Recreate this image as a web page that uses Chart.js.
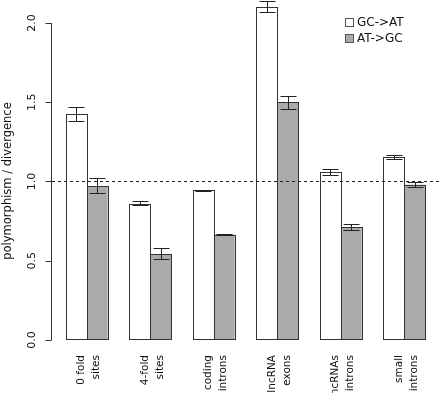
<!DOCTYPE html>
<html>
<head>
<meta charset="utf-8">
<script src="https://cdn.jsdelivr.net/npm/chart.js@4"></script>
<style>
  html, body { margin: 0; padding: 0; background: #fff; }
  #wrap { width: 440px; height: 393px; }
</style>
</head>
<body>
<div id="wrap"><canvas id="chart" width="440" height="393"></canvas></div>
<script>
const categories = [['0 fold', 'sites'], ['4-fold', 'sites'], ['coding', 'introns'], ['lncRNA', 'exons'], ['lncRNAs', 'introns'], ['small', 'introns']];
const gcToAt = [1.425, 0.86, 0.945, 2.10, 1.06, 1.155];
const gcToAtLo = [1.38, 0.85, 0.943, 2.07, 1.04, 1.14];
const gcToAtHi = [1.47, 0.875, 0.947, 2.14, 1.08, 1.17];
const atToGc = [0.97, 0.54, 0.665, 1.50, 0.71, 0.98];
const atToGcLo = [0.93, 0.51, 0.663, 1.46, 0.695, 0.965];
const atToGcHi = [1.02, 0.58, 0.667, 1.54, 0.73, 0.995];
const yTicks = [0, 0.5, 1.0, 1.5, 2.0];
const refLine = 1.0;

const FONT = '"DejaVu Sans", sans-serif';
const errors = [[gcToAtLo, gcToAtHi], [atToGcLo, atToGcHi]];

// bar outlines, error bars, axes, reference line and legend drawn on top of the bars
const extras = {
  id: 'extras',
  afterDatasetsDraw(chart) {
    const ctx = chart.ctx;
    const x = chart.scales.x;
    const y = chart.scales.y;
    const area = chart.chartArea;
    ctx.save();
    ctx.lineWidth = 1;

    // crisp bar outlines
    ctx.strokeStyle = '#333';
    chart.data.datasets.forEach((ds, d) => {
      chart.getDatasetMeta(d).data.forEach(bar => {
        const l = Math.round(bar.x - bar.width / 2) + 0.5;
        const r = Math.round(bar.x + bar.width / 2) + 0.5;
        const t = Math.round(bar.y) + 0.5;
        const b = Math.round(bar.base) - 0.5;
        ctx.strokeRect(l, t, r - l, b - t);
      });
    });

    // error bars
    ctx.strokeStyle = '#222';
    errors.forEach(([lo, hi], d) => {
      chart.getDatasetMeta(d).data.forEach((bar, i) => {
        const cx = Math.round(bar.x) + 0.5;
        const yl = Math.round(y.getPixelForValue(lo[i])) + 0.5;
        const yh = Math.round(y.getPixelForValue(hi[i])) + 0.5;
        ctx.beginPath();
        ctx.moveTo(cx, yl); ctx.lineTo(cx, yh);
        ctx.moveTo(cx - 8, yl); ctx.lineTo(cx + 8, yl);
        ctx.moveTo(cx - 8, yh); ctx.lineTo(cx + 8, yh);
        ctx.stroke();
      });
    });

    // dashed reference line
    const yr = Math.round(y.getPixelForValue(refLine)) + 0.5;
    ctx.setLineDash([3, 3]);
    ctx.beginPath();
    ctx.moveTo(area.left - 3, yr);
    ctx.lineTo(chart.width, yr);
    ctx.stroke();
    ctx.setLineDash([]);

    // y axis
    const ax = Math.round(area.left) - 3.5;
    ctx.strokeStyle = '#333';
    ctx.beginPath();
    ctx.moveTo(ax, y.getPixelForValue(yTicks[0]));
    ctx.lineTo(ax, y.getPixelForValue(yTicks[yTicks.length - 1]));
    yTicks.forEach(v => {
      const py = Math.round(y.getPixelForValue(v)) + 0.5;
      ctx.moveTo(ax, py);
      ctx.lineTo(ax - 6, py);
    });
    ctx.stroke();

    ctx.fillStyle = '#111';
    ctx.font = '11px ' + FONT;
    ctx.textAlign = 'center';
    ctx.textBaseline = 'middle';
    yTicks.forEach(v => {
      ctx.save();
      ctx.translate(32, y.getPixelForValue(v));
      ctx.rotate(-Math.PI / 2);
      ctx.fillText(v.toFixed(1), 0, 0);
      ctx.restore();
    });

    // y title
    ctx.save();
    ctx.font = '11.5px ' + FONT;
    ctx.translate(8, 181);
    ctx.rotate(-Math.PI / 2);
    ctx.fillText('polymorphism / divergence', 0, 0);
    ctx.restore();

    // x labels, rotated, two lines
    ctx.font = '10.5px ' + FONT;
    ctx.textAlign = 'right';
    categories.forEach((lines, i) => {
      const cx = x.getPixelForValue(i);
      lines.forEach((t, j) => {
        ctx.save();
        ctx.translate(cx - 5 + j * 15, 355);
        ctx.rotate(-Math.PI / 2);
        ctx.fillText(t, 0, 0);
        ctx.restore();
      });
    });

    // legend
    ctx.font = '12px ' + FONT;
    ctx.textAlign = 'left';
    chart.data.datasets.forEach((ds, d) => {
      const ly = 22 + d * 16;
      ctx.fillStyle = ds.backgroundColor;
      ctx.strokeStyle = '#555';
      ctx.fillRect(345, ly - 4, 8, 8);
      ctx.strokeRect(345.5, ly - 3.5, 8, 8);
      ctx.fillStyle = '#111';
      ctx.fillText(ds.label, 357, ly + 1);
    });

    ctx.restore();
  }
};

new Chart(document.getElementById('chart'), {
  type: 'bar',
  data: {
    labels: categories,
    datasets: [
      { label: 'GC->AT', data: gcToAt, backgroundColor: '#ffffff', borderWidth: 0 },
      { label: 'AT->GC', data: atToGc, backgroundColor: '#aaaaaa', borderWidth: 0 }
    ]
  },
  options: {
    responsive: false,
    animation: false,
    devicePixelRatio: 1,
    categoryPercentage: 0.66,
    barPercentage: 1.0,
    layout: { padding: { left: 47, right: 4, top: 0, bottom: 45 } },
    plugins: { legend: { display: false }, tooltip: { enabled: false } },
    scales: {
      x: {
        grid: { display: false },
        border: { display: false },
        ticks: { display: false }
      },
      y: {
        min: 0,
        max: 2.145,
        grid: { display: false },
        border: { display: false },
        ticks: { display: false }
      }
    }
  },
  plugins: [extras]
});
</script>
</body>
</html>
